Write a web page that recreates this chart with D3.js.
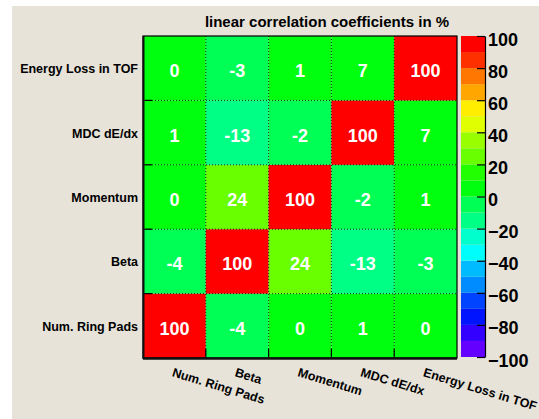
<!DOCTYPE html>
<html><head><meta charset="utf-8">
<script src="https://cdn.jsdelivr.net/npm/d3@7"></script>
<style>
body{margin:0;background:#fff}
svg{display:block}
text{font-family:"Liberation Sans",Arial,Helvetica,sans-serif;font-weight:bold}
</style>
</head><body><svg id="c" width="539" height="419"></svg>
<script>
// ---- data ----
const variables = ["Num. Ring Pads", "Beta", "Momentum", "MDC dE/dx", "Energy Loss in TOF"];
// correlation coefficients in %, one array per y variable, values ordered by x variable
const corrNumRingPads = [100, -4, 0, 1, 0];
const corrBeta = [-4, 100, 24, -13, -3];
const corrMomentum = [0, 24, 100, -2, 1];
const corrMDC = [1, -13, -2, 100, 7];
const corrEnergyLoss = [0, -3, 1, 7, 100];
const zTickValues = [-100, -80, -60, -40, -20, 0, 20, 40, 60, 80, 100];
const zLevels = [-100, -90, -80, -70, -60, -50, -40, -30, -20, -10, 0, 10, 20, 30, 40, 50, 60, 70, 80, 90, 100];
const titleText = "linear correlation coefficients in %";

const rows = [corrNumRingPads, corrBeta, corrMomentum, corrMDC, corrEnergyLoss];
const cells = [];
rows.forEach((r, yi) => r.forEach((v, xi) => cells.push({x: variables[xi], y: variables[yi], v})));

// ---- layout ----
const svg = d3.select("#c");
const W = 539, H = 419;
const L = 143, R = 457, T = 36, B = 358;
const cbL = 461, cbR = 485, cbT = 36, cbB = 357;

svg.append("rect").attr("width", W).attr("height", H).attr("fill", "#fff");
svg.append("rect").attr("x", 12).attr("y", 6).attr("width", W - 12).attr("height", H - 6).attr("fill", "#e7e3d9");

const x = d3.scaleBand().domain(variables).range([L, R]);
const y = d3.scaleBand().domain(variables).range([B, T]);

// ROOT "pretty" palette (hue 280 -> 0), 20 contour levels
const nCol = 50, nLev = zLevels.length - 1;
const palette = d3.range(nLev).map(k => {
  const i = Math.floor((k + 0.99) * nCol / nLev);
  const hue = 280 - (i + 1) * (280 / nCol);
  return d3.hsl(hue, 1, 0.5).formatHex();
});
const color = d3.scaleThreshold().domain(zLevels.slice(1, -1)).range(palette);

// cells
svg.append("g").selectAll("rect").data(cells).join("rect")
  .attr("x", d => x(d.x)).attr("y", d => y(d.y))
  .attr("width", x.bandwidth()).attr("height", y.bandwidth())
  .attr("fill", d => color(d.v));

// dotted grid on cell boundaries
const grid = svg.append("g").attr("stroke", "#000").attr("stroke-width", 1).attr("stroke-dasharray", "1,2").attr("opacity", 0.8);
variables.slice(1).forEach(v => {
  grid.append("line").attr("x1", x(v)).attr("x2", x(v)).attr("y1", T).attr("y2", B);
  grid.append("line").attr("y1", y(v) + y.bandwidth()).attr("y2", y(v) + y.bandwidth()).attr("x1", L).attr("x2", R);
});

// ticks at boundaries
const tk = svg.append("g").attr("stroke", "#000").attr("stroke-width", 1.2);
variables.slice(1).forEach(v => {
  tk.append("line").attr("x1", L).attr("x2", L + 9).attr("y1", y(v) + y.bandwidth()).attr("y2", y(v) + y.bandwidth());
  tk.append("line").attr("x1", x(v)).attr("x2", x(v)).attr("y1", B).attr("y2", B - 9);
});

// frame
svg.append("rect").attr("x", L).attr("y", T).attr("width", R - L).attr("height", B - T)
  .attr("fill", "none").attr("stroke", "#000").attr("stroke-width", 1.2);
svg.append("line").attr("x1", L + 0.5).attr("x2", L + 0.5).attr("y1", T).attr("y2", B + 1).attr("stroke", "#111").attr("stroke-width", 2);
svg.append("line").attr("x1", L).attr("x2", R).attr("y1", B + 0.5).attr("y2", B + 0.5).attr("stroke", "#111").attr("stroke-width", 2.5);

// cell values
svg.append("g").selectAll("text").data(cells).join("text")
  .attr("x", d => x(d.x) + x.bandwidth() / 2)
  .attr("y", d => y(d.y) + y.bandwidth() / 2 + 9)
  .attr("text-anchor", "middle").attr("fill", "#fff").attr("font-size", 18)
  .text(d => d.v);

// y labels
svg.append("g").selectAll("text").data(variables).join("text")
  .attr("x", 138).attr("y", d => y(d) + y.bandwidth() / 2 + 5)
  .attr("text-anchor", "end").attr("font-size", 12.5).attr("fill", "#000")
  .text(d => d);

// x labels (rotated)
svg.append("g").selectAll("text").data(variables).join("text")
  .attr("transform", d => `translate(${x(d) + x.bandwidth() / 2 - 3},376) rotate(17)`)
  .attr("text-anchor", "start").attr("font-size", 12.5).attr("fill", "#000")
  .text(d => d);

// colour bar
const z = d3.scaleLinear().domain([-100, 100]).range([cbB, cbT]);
svg.append("g").selectAll("rect").data(d3.range(nLev)).join("rect")
  .attr("x", cbL).attr("width", cbR - cbL)
  .attr("y", k => z(zLevels[k + 1])).attr("height", k => z(zLevels[k]) - z(zLevels[k + 1]))
  .attr("fill", k => palette[k]);

const zAxis = d3.axisRight(z).tickValues(zTickValues).tickSizeInner(-8).tickSizeOuter(0).tickPadding(3);
const zg = svg.append("g").attr("transform", `translate(${cbR},0)`).call(zAxis);
zg.select(".domain").attr("stroke", "#000").attr("stroke-width", 1.2);
zg.selectAll(".tick line").attr("stroke", "#000").attr("stroke-width", 1.2);
zg.selectAll(".tick text").attr("font-size", 18).attr("fill", "#000").attr("dy", "0.5em")
  .style("font-family", '"Liberation Sans",Arial,sans-serif').style("font-weight", "bold");

// title
svg.append("text").attr("x", 327).attr("y", 27).attr("text-anchor", "middle")
  .attr("font-size", 15).attr("fill", "#000").text(titleText);
</script></body></html>
